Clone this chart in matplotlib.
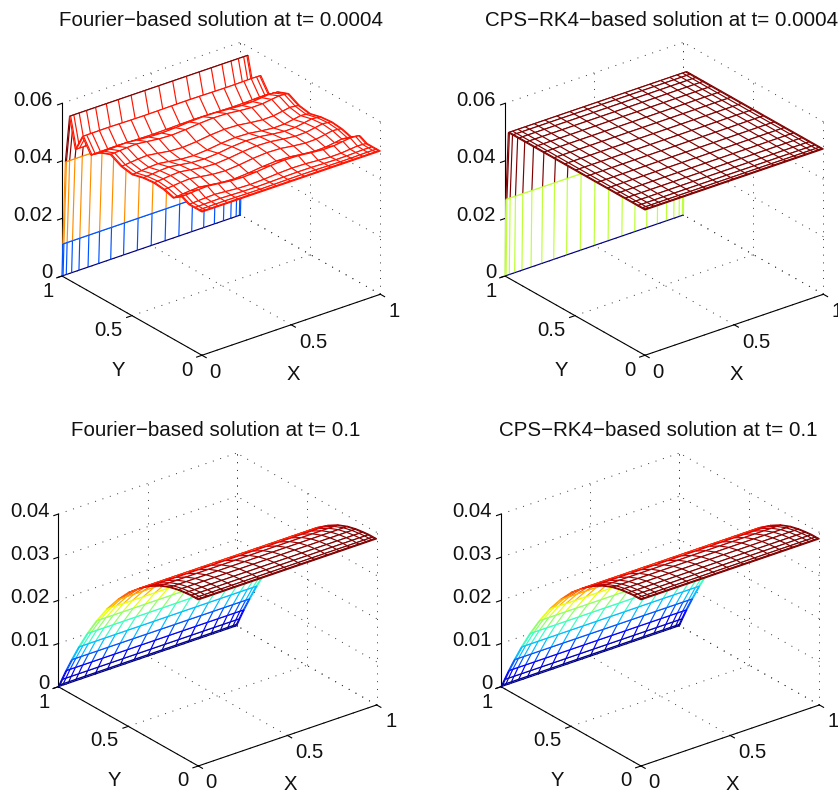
import numpy as np
import matplotlib
matplotlib.use("Agg")
from matplotlib import pyplot as plt
from mpl_toolkits.mplot3d import proj3d
from mpl_toolkits.mplot3d.art3d import Line3DCollection, Poly3DCollection

W, H = 838, 792
plt.rcParams['font.family'] = ['Liberation Sans', 'DejaVu Sans']

# grid nodes (same in x and y)
nodes = [0, .006, .024, .054, .095, .146, .206, .273, .345, .422, .5,
         .578, .655, .727, .794, .854, .905, .946, .976, .994, 1]

# z along y at each node
fourier_early = [.0498, .0498, .0498, .0498, .0498, .0511, .0490, .0500, .0504, .0500, .0490,
                 .0497, .0517, .0503, .0477, .0525, .0466, .0570, .0403, .0113, 0]
cps_early = [.0505, .0505, .0505, .0505, .0505, .0505, .0505, .0505, .0505, .0505, .0505,
             .0505, .0505, .0505, .0505, .0505, .0505, .0505, .0505, .0268, 0]
late_profile = [.0385, .0385, .0385, .0385, .03835, .0381, .0376, .0367, .0353, .0334, .0310,
                .0279, .0243, .0203, .0161, .0119, .0080, .0047, .0021, .0005, 0]

# small cross ripple of the t=0.0004 Fourier surface
ripple_x = [0, 0, .1, .3, .6, .8, .2, -.5, -.8, -.4, .3, .7, .5, -.2, -.7, -.6, 0, .5, .3, .1, 0]
ripple_y = [0, 0, .0001, .0002, .0005, .0007, .0008, .0009, .0009, .0009, .0009,
            .0009, .0007, .0005, .0002, .0001, 0, 0, 0, 0, 0]

titles = ["Fourier\u2212based solution at t= 0.0004", "CPS\u2212RK4\u2212based solution at t= 0.0004",
          "Fourier\u2212based solution at t= 0.1", "CPS\u2212RK4\u2212based solution at t= 0.1"]
z_ticks_early = [0, .02, .04, .06]
z_ticks_late = [0, .01, .02, .03, .04]
xy_ticks = [0, .5, 1]

# z -> jet position
stops_fourier = ([0, .0113, .0403, .046, .0525, .057], [0, .21, .76, .885, .89, 1])
stops_cps = ([0, .0268, .0505], [0, .58, 1])
stops_late = ([0, .0385], [0, 1])

VECTOR_X = 178.4
BOX = (226.0, 228.2, 192.3)
jet = plt.get_cmap("jet")


def pixel(ax, x, y, z):
    xs, ys, _ = proj3d.proj_transform(x, y, z, ax.get_proj())
    return ax.transData.transform((xs, ys))


def place_axes(ax, origin):
    # scale the square axes until the x edge has its length, then shift it
    size = 500.0
    ax.set_position([0, 0, size / W, size / H])
    ax.apply_aspect()
    span = pixel(ax, 1, 0, 0)[0] - pixel(ax, 0, 0, 0)[0]
    size *= VECTOR_X / span
    ax.set_position([0, 0, size / W, size / H])
    ax.apply_aspect()
    now = pixel(ax, 0, 1, 0)
    ax.set_position([(origin[0] - now[0]) / W, (H - origin[1] - now[1]) / H, size / W, size / H])
    ax.apply_aspect()


def label(ax, x, y, z, dx, dy, text, ha="center", size=14.6):
    xs, ys, _ = proj3d.proj_transform(x, y, z, ax.get_proj())
    ax.annotate(text, (xs, ys), xytext=(dx, -dy), textcoords="offset pixels", ha=ha, va="center",
                fontsize=size, annotation_clip=False, color="#111111")


def draw_box(ax, z_ticks):
    top = z_ticks[-1]
    dots = dict(color="#333333", lw=0.7, ls=(0, (1, 7)), zorder=1)
    for v in xy_ticks:
        ax.plot([v, v], [0, 1], [0, 0], **dots)
        ax.plot([0, 1], [v, v], [0, 0], **dots)
        if v > 0:
            ax.plot([v, v], [1, 1], [0, top], **dots)
        ax.plot([1, 1], [v, v], [0, top], **dots)
    for z in z_ticks:
        ax.plot([0, 1], [1, 1], [z, z], **dots)
        ax.plot([1, 1], [0, 1], [z, z], **dots)
    solid = dict(color="black", lw=0.8, zorder=2)
    ax.plot([0, 1], [0, 0], [0, 0], **solid)
    ax.plot([0, 0], [0, 1], [0, 0], **solid)
    ax.plot([0, 0], [1, 1], [0, top], **solid)
    for v in xy_ticks:
        ax.plot([v, v], [0, -.03], [0, 0], **solid)
        ax.plot([0, -.03], [v, v], [0, 0], **solid)
    for z in z_ticks:
        ax.plot([0, -.025], [1, 1], [z, z], **solid)


def draw_mesh(ax, Z, stops):
    xs = np.array(nodes)
    ys = np.array(nodes)
    col = jet(np.interp(Z, stops[0], stops[1]))
    order = 10
    # far row to near row, so nearer bands hide what lies behind them
    for j in range(len(ys) - 1, 0, -1):
        far, near = j, j - 1
        faces = []
        segs = []
        colors = []
        for i in range(len(xs) - 1):
            faces.append([(xs[i], ys[far], Z[far, i]), (xs[i + 1], ys[far], Z[far, i + 1]),
                          (xs[i + 1], ys[near], Z[near, i + 1]), (xs[i], ys[near], Z[near, i])])
        for i in range(len(xs)):
            segs.append([(xs[i], ys[far], Z[far, i]), (xs[i], ys[near], Z[near, i])])
            colors.append(col[near, i])
        for i in range(len(xs) - 1):
            segs.append([(xs[i], ys[far], Z[far, i]), (xs[i + 1], ys[far], Z[far, i + 1])])
            colors.append(col[far, i])
            segs.append([(xs[i], ys[near], Z[near, i]), (xs[i + 1], ys[near], Z[near, i + 1])])
            colors.append(col[near, i])
        ax.add_collection3d(Poly3DCollection(faces, facecolors="white", edgecolors="none", zorder=order),
                            autolim=False)
        ax.add_collection3d(Line3DCollection(segs, colors=colors, linewidths=0.85, zorder=order + 1),
                            autolim=False)
        order += 2


def draw_panel(origin, title, title_pos, Z, stops, z_ticks):
    ax = fig.add_axes([0, 0, 1, 1], projection="3d", computed_zorder=False)
    ax.set_proj_type("ortho")
    ax.set_box_aspect(BOX)
    ax.view_init(elev=26.11, azim=-127.85)
    ax.set_xlim(0, 1, view_margin=0)
    ax.set_ylim(0, 1, view_margin=0)
    ax.set_zlim(0, z_ticks[-1], view_margin=0)
    ax.set_axis_off()
    place_axes(ax, origin)

    draw_box(ax, z_ticks)
    draw_mesh(ax, Z, stops)

    for z in z_ticks:
        label(ax, 0, 1, z, -9, -3, f"{z:g}", ha="right")
    label(ax, 0, 0, 0, 13, 17, "0")
    label(ax, .5, 0, 0, 22, 17.5, "0.5")
    label(ax, 1, 0, 0, 14, 17, "1")
    label(ax, 0, 0, 0, -15.5, 15, "0")
    label(ax, 0, .5, 0, -23.5, 14.6, "0.5")
    label(ax, 0, 1, 0, -14.3, 15.7, "1")
    label(ax, .5, 0, 0, 2.5, 49.5, "X")
    label(ax, 0, .5, 0, -13.5, 54.6, "Y")
    fig.text(title_pos[0] / W, 1 - title_pos[1] / H, title, ha="center", va="center",
             fontsize=14.8, color="#111111")


def ripple_surface():
    Z = np.array(fourier_early)[:, None] + np.outer(ripple_y, ripple_x)
    return Z


def flat_surface(profile):
    return np.tile(np.array(profile)[:, None], (1, len(nodes)))


fig = plt.figure(figsize=(W / 100, H / 100), dpi=100)

draw_panel((62, 276), titles[0], (221, 20), ripple_surface(), stops_fourier, z_ticks_early)
draw_panel((505, 276), titles[1], (662, 20), flat_surface(cps_early), stops_cps, z_ticks_early)
draw_panel((58.3, 686.7), titles[2], (216, 431), flat_surface(late_profile), stops_late, z_ticks_late)
draw_panel((501, 686.7), titles[3], (658, 431), flat_surface(late_profile), stops_late, z_ticks_late)

fig.savefig("out.png", dpi=100)
